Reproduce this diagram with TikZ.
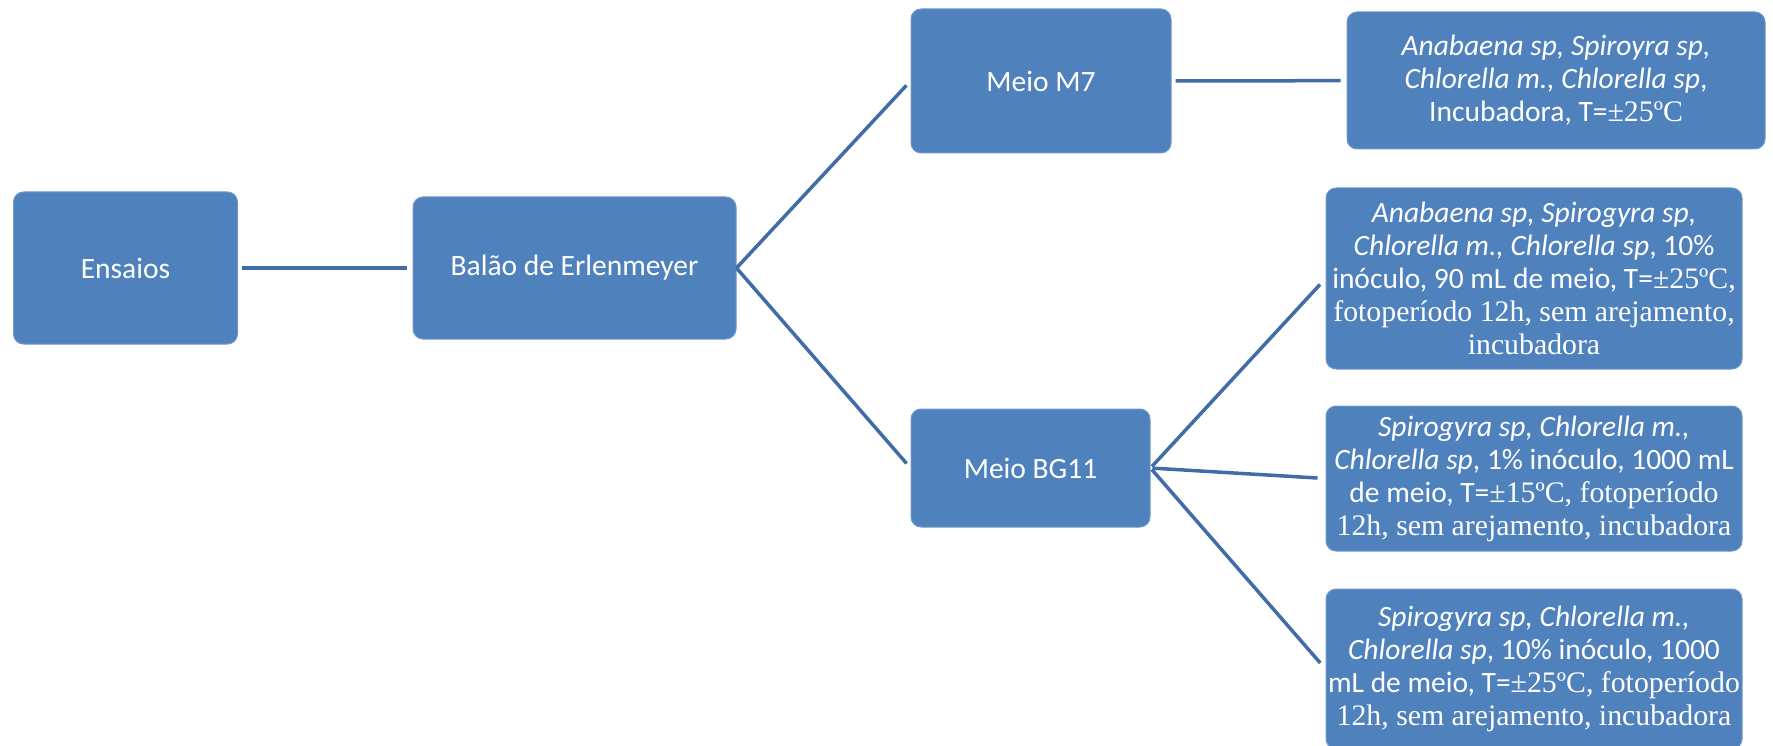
\documentclass[tikz,border=0pt]{standalone}
\usepackage{fontspec}
\setmainfont{Carlito}
\newfontfamily\tnr[Scale=1.01]{Liberation Serif}
\usetikzlibrary{positioning}
\definecolor{boxblue}{RGB}{79,129,189}
\definecolor{boxline}{RGB}{112,152,204}
\definecolor{linkblue}{RGB}{66,108,168}
\tikzset{
  bloco/.style={rectangle, rounded corners=10pt, fill=boxblue, draw=boxline, line width=1pt,
    text=white, align=center, inner sep=2pt, font=\fontsize{29.5}{33}\selectfont},
  ligacao/.style={draw=linkblue, line width=3.5pt, shorten <=4pt, shorten >=6pt}
}
\begin{document}
\begin{tikzpicture}[line cap=butt,line join=round,x=1pt,y=-1pt]
\useasboundingbox (0,0) rectangle (1773,746);
% first level
\node[bloco, minimum width=224, minimum height=152] (ensaios) at (125.5,268) {Ensaios};
\node[bloco, minimum width=323, minimum height=142] (balao) at (574.5,268) {Balão de Erlenmeyer};
% meios
\node[bloco, minimum width=260, minimum height=144] (m7) at (1041,81) {Meio M7};
\node[bloco, minimum width=239, minimum height=118] (bg11) at (1030.5,468) {Meio BG11};
% ensaios por meio
\node[bloco, minimum width=418, minimum height=137] (m7a) at (1556,80.5)
  {\textit{Anabaena sp, Spiroyra sp,}\\ \textit{Chlorella m., Chlorella sp},\\ Incubadora, T={\tnr ±25ºC}};
\node[bloco, minimum width=416, minimum height=181] (bga) at (1534,278.5)
  {\textit{Anabaena sp, Spirogyra sp,}\\ \textit{Chlorella m., Chlorella sp}, 10\%\\ inóculo, 90 mL de meio, T={\tnr ±25ºC,}\\
   {\tnr fotoperíodo 12h, sem arejamento,}\\ {\tnr incubadora}};
\node[bloco, minimum width=416, minimum height=145] (bgb) at (1534,478.5)
  {\textit{Spirogyra sp, Chlorella m.,}\\ \textit{Chlorella sp}, 1\% inóculo, 1000 mL\\ de meio, T={\tnr ±15ºC, fotoperíodo}\\
   {\tnr 12h, sem arejamento, incubadora}};
\node[bloco, minimum width=416, minimum height=160] (bgc) at (1534,669)
  {\textit{Spirogyra sp, Chlorella m.,}\\ \textit{Chlorella sp}, 10\% inóculo, 1000\\ mL de meio, T={\tnr ±25ºC, fotoperíodo}\\
   {\tnr 12h, sem arejamento, incubadora}};
% ligacoes
\draw[ligacao, line width=4.5pt] (ensaios) -- (balao);
\draw[ligacao, shorten <=0pt] (balao.east) -- (m7.west);
\draw[ligacao, shorten <=0pt] (balao.east) -- (bg11.west);
\draw[ligacao] (m7) -- (m7a);
\foreach \folha in {bga,bgb,bgc}
  \draw[ligacao, shorten <=2pt, shorten >=8pt] (bg11.east) -- (\folha.west);
\end{tikzpicture}
\end{document}
